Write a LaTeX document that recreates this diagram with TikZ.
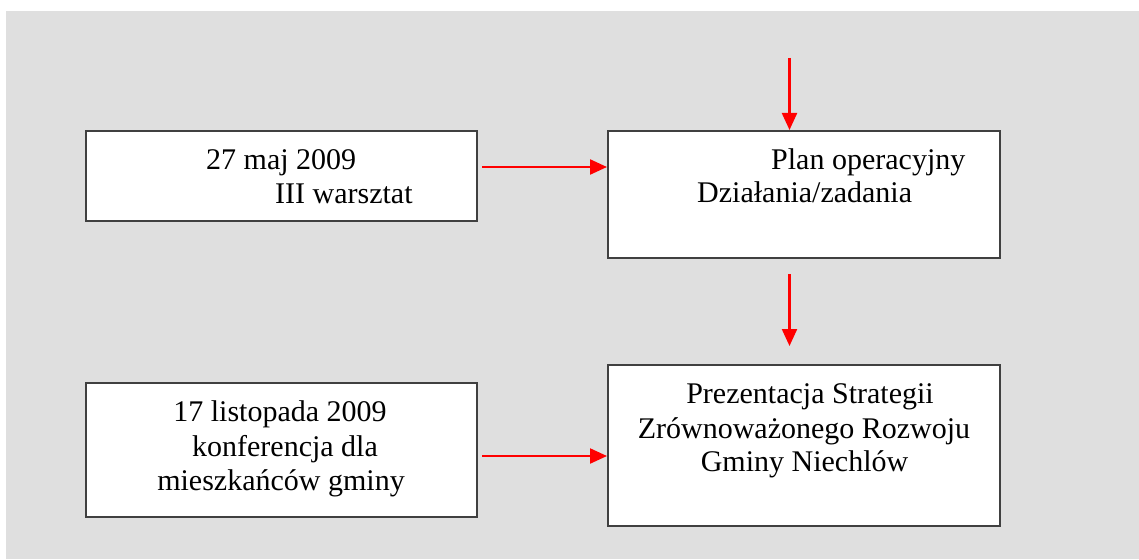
\documentclass[tikz,border=0pt]{standalone}
\usepackage{fontspec}
\setmainfont{Liberation Serif}
\usetikzlibrary{arrows.meta}
\definecolor{bggray}{HTML}{DFDFDF}
\definecolor{boxline}{HTML}{404040}
\begin{document}
\begin{tikzpicture}[x=1pt,y=-1pt,
  stepbox/.style={draw=boxline,line width=1.4pt,fill=white,inner sep=0pt},
  lbl/.style={inner sep=0pt,font=\fontsize{30}{34}\selectfont},
  redarrow/.style={draw=red,line width=2.2pt,-{Triangle[length=17pt,width=15pt]}}]
\useasboundingbox (0,0) rectangle (1139,559);
\fill[bggray] (6,11) rectangle (1139,559);
% boxes
\node[stepbox,minimum width=391pt,minimum height=90pt] (b1) at (281.5,176) {};
\node[stepbox,minimum width=392pt,minimum height=127pt] (b2) at (804,194.5) {};
\node[stepbox,minimum width=391pt,minimum height=134pt] (b3) at (281.5,450) {};
\node[stepbox,minimum width=392pt,minimum height=161pt] (b4) at (804,445.5) {};
% texts
\node[lbl,anchor=base west] (t1a) at (206,169) {27 maj 2009};
\node[lbl,anchor=base west] (t1b) at (275,203) {III warsztat};
\node[lbl,anchor=base west] (t2a) at (771,169) {Plan operacyjny};
\node[lbl,anchor=base west] (t2b) at (697,202) {Działania/zadania};
\node[lbl,anchor=base] (t3a) at (280,421) {17 listopada 2009};
\node[lbl,anchor=base] (t3b) at (285,456) {konferencja dla};
\node[lbl,anchor=base] (t3c) at (281,490) {mieszkańców gminy};
\node[lbl,anchor=base] (t4a) at (810,403) {Prezentacja Strategii};
\node[lbl,anchor=base] (t4b) at (804,438) {Zrównoważonego Rozwoju};
\node[lbl,anchor=base] (t4c) at (804.5,471) {Gminy Niechlów};
% connector coordinates
\coordinate (a1s) at (482,167);
\coordinate (a1e) at (607,167);
\coordinate (a2s) at (482,456);
\coordinate (a2e) at (607,456);
\coordinate (a3s) at (789.5,58);
\coordinate (a3e) at (789.5,130);
\coordinate (a4s) at (789.5,274);
\coordinate (a4e) at (789.5,346);
\draw[redarrow] (a1s) -- (a1e);
\draw[redarrow] (a2s) -- (a2e);
\draw[redarrow] (a3s) -- (a3e);
\draw[redarrow] (a4s) -- (a4e);
\end{tikzpicture}
\end{document}
